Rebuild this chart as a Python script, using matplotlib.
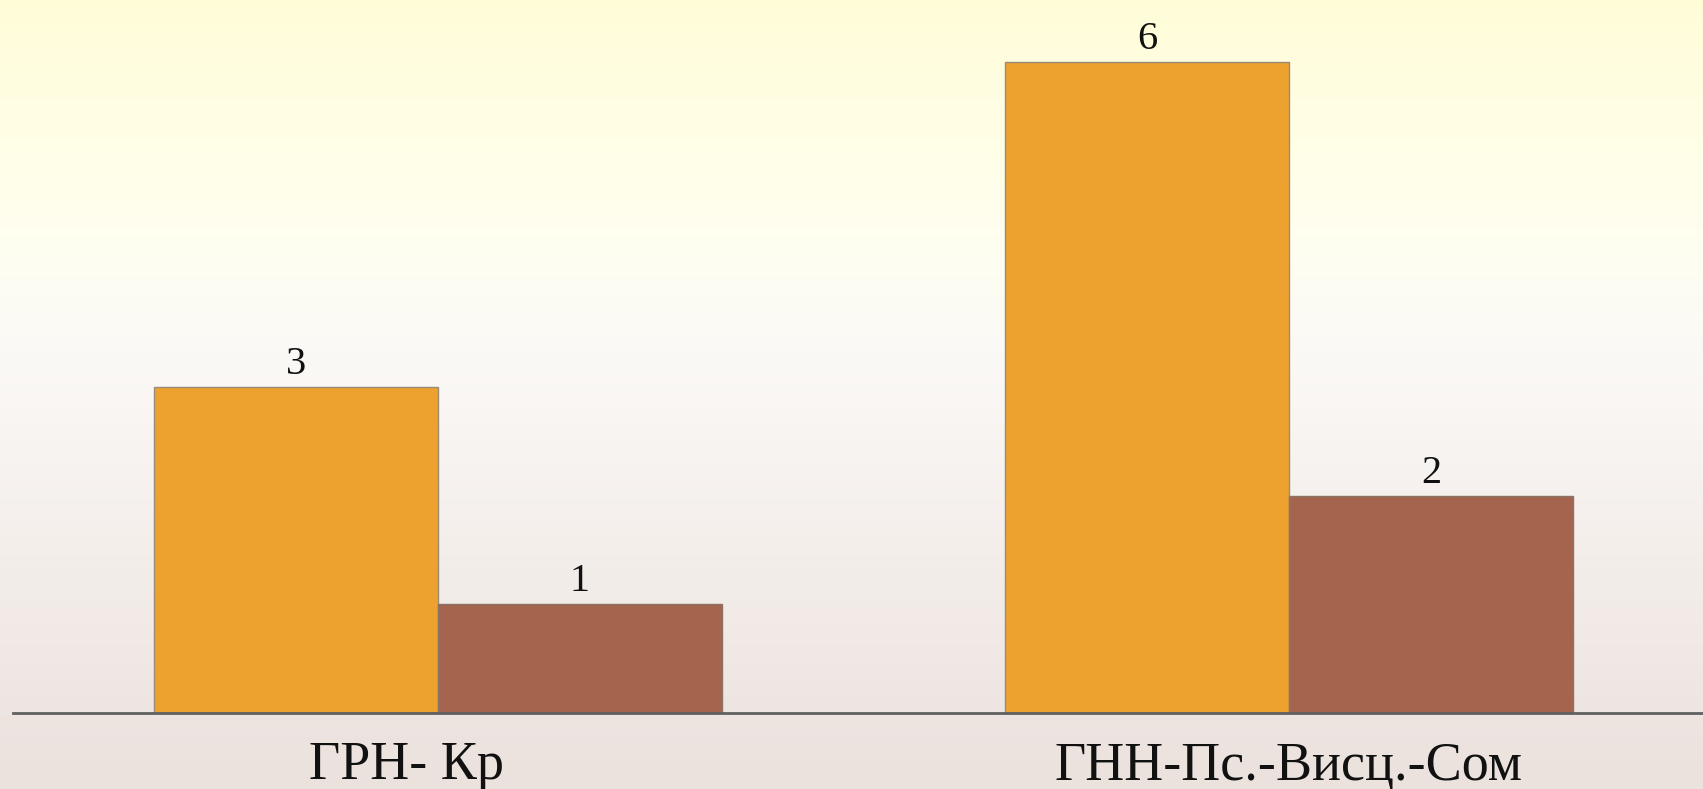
import numpy as np
import matplotlib.pyplot as plt
import matplotlib.transforms as mtransforms
from matplotlib.colors import LinearSegmentedColormap

# Данные диаграммы
categories = ["ГРН- Кр", "ГНН-Пс.-Висц.-Сом"]
series_a = [3, 6]
series_b = [1, 2]

color_a = "#eda22f"
color_b = "#a5644e"

plt.rcParams["font.family"] = ["Liberation Serif", "DejaVu Serif"]

fig = plt.figure(figsize=(17.03, 7.89), dpi=100)

# Фон: вертикальный градиент от светло-жёлтого к розовато-серому
bg = fig.add_axes([0, 0, 1, 1], zorder=0)
bg_cmap = LinearSegmentedColormap.from_list(
    "bg",
    [(0.0, "#fffdd8"), (0.30, "#fffff0"), (0.45, "#fbf9f6"), (1.0, "#ebe1dd")],
)
grad = np.linspace(0, 1, 256).reshape(-1, 1)
bg.imshow(grad, aspect="auto", cmap=bg_cmap, extent=[0, 1, 1, 0])
bg.set_xlim(0, 1)
bg.set_ylim(1, 0)
bg.axis("off")

ax = fig.add_axes([13 / 1703, 76 / 789, 1 - 13 / 1703, 713 / 789], zorder=1)
ax.patch.set_alpha(0)

x = np.arange(len(categories))
width = 0.3337

bars_a = ax.bar(x - width / 2, series_a, width, color=color_a,
                edgecolor="#9a8a78", linewidth=1.0)
bars_b = ax.bar(x + width / 2, series_b, width, color=color_b,
                edgecolor="#8a7468", linewidth=1.0)

for bars in (bars_a, bars_b):
    for b in bars:
        h = b.get_height()
        ax.annotate(f"{h:g}", (b.get_x() + b.get_width() / 2, h),
                    xytext=(0, 3), textcoords="offset points",
                    ha="center", va="bottom", fontsize=29, color="#111111")

ax.set_xlim(-0.4994, 1.4865)
ax.set_ylim(0, 6.57)

for side in ("top", "right", "left"):
    ax.spines[side].set_visible(False)
ax.spines["bottom"].set_color("#606060")
ax.spines["bottom"].set_linewidth(2.0)

ax.set_yticks([])
ax.set_xticks(x)
ax.set_xticklabels(categories, fontsize=39, color="#111111")
ax.tick_params(axis="x", length=0, pad=20)

# первая подпись сдвинута немного влево
first = ax.get_xticklabels()[0]
first.set_transform(first.get_transform()
                    + mtransforms.ScaledTranslation(-0.31, 0, fig.dpi_scale_trans))

fig.savefig("out.png", dpi=100)
